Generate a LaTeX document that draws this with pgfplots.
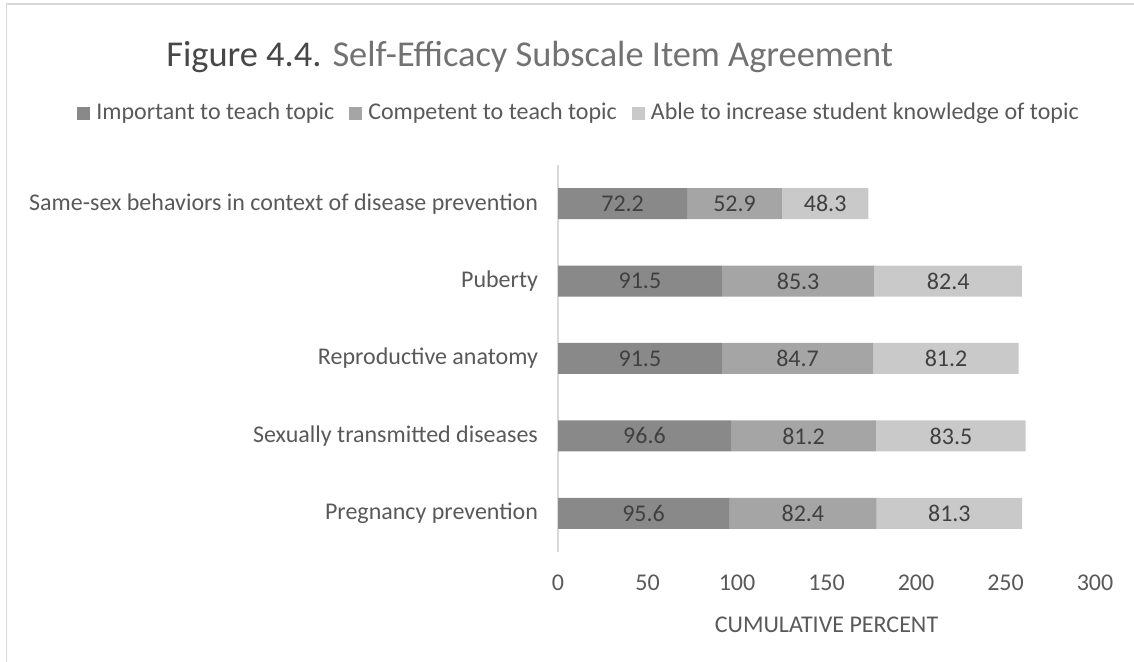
\documentclass[border=0pt]{standalone}
\usepackage{fontspec}
\setmainfont{Carlito}
\usepackage{pgfplots}
\usepackage{pgfplotstable}
\pgfplotsset{compat=1.18}

\definecolor{bardark}{HTML}{898989}
\definecolor{barmid}{HTML}{A5A5A5}
\definecolor{barlight}{HTML}{C9C9C9}
\definecolor{txt}{HTML}{595959}
\definecolor{lbl}{HTML}{404040}
\definecolor{frame}{HTML}{D9D9D9}

\pgfplotstableread{
y imp comp able
0 95.6 82.4 81.3
1 96.6 81.2 83.5
2 91.5 84.7 81.2
3 91.5 85.3 82.4
4 72.2 52.9 48.3
}\agreement

\begin{document}
\begin{tikzpicture}
\useasboundingbox (0,0) rectangle (567pt,331pt);
% light chart frame (top and left only are visible)
\draw[frame, line width=0.75pt] (3.25pt,0) -- (3.25pt,329pt) -- (567pt,329pt);

\node[anchor=base west, inner sep=0, font=\fontsize{18.2}{21}\selectfont] at (83pt,297.5pt)
  {\textcolor{txt!80!black}{Figure 4.4.} \textcolor{txt!85!white}{Self-Efficacy Subscale Item Agreement}};

\begin{axis}[
    at={(279pt,55pt)}, anchor=south west,
    scale only axis,
    width=268.5pt, height=193.5pt,
    xbar stacked,
    bar width=15.5pt,
    xmin=0, xmax=300,
    ymin=-0.5, ymax=4.5,
    xtick={0,50,...,300},
    ytick={0,1,2,3,4},
    yticklabels={Pregnancy prevention, Sexually transmitted diseases, Reproductive anatomy, Puberty, Same-sex behaviors in context of disease prevention},
    axis y line*=left,
    axis x line*=bottom,
    x axis line style={draw=none},
    y axis line style={draw=frame, line width=0.8pt},
    major tick length=0pt,
    font=\fontsize{12}{14}\selectfont,
    /pgf/number format/assume math mode=true,
    xticklabel style={anchor=center, yshift=-15.5pt, text=txt},
    yticklabel style={xshift=-6.5pt, text=txt},
    xlabel={CUMULATIVE PERCENT},
    xlabel style={at={(axis description cs:0.5,-0.189)}, anchor=center, text=txt},
    legend columns=3,
    legend style={at={(axis description cs:0.041,1.134)}, anchor=center, draw=none, fill=none,
        text=txt, font=\fontsize{12}{14}\selectfont,
        /tikz/every even column/.append style={column sep=5.5pt}},
    legend image code/.code={\fill[#1] (0pt,-3.25pt) rectangle (6.5pt,3.25pt); \path (7.5pt,0pt);},
    visualization depends on=rawx \as \rawx,
    nodes near coords={\pgfmathprintnumber[fixed,fixed zerofill,precision=1]{\rawx}},
    every node near coord/.append style={anchor=center, text=lbl, font=\fontsize{12}{14}\selectfont},
]
\addplot[draw=none, fill=bardark] table[x=imp, y=y]{\agreement};
\addplot[draw=none, fill=barmid] table[x=comp, y=y]{\agreement};
\addplot[draw=none, fill=barlight] table[x=able, y=y]{\agreement};
\legend{Important to teach topic, Competent to teach topic, Able to increase student knowledge of topic}
\end{axis}
\end{tikzpicture}
\end{document}
